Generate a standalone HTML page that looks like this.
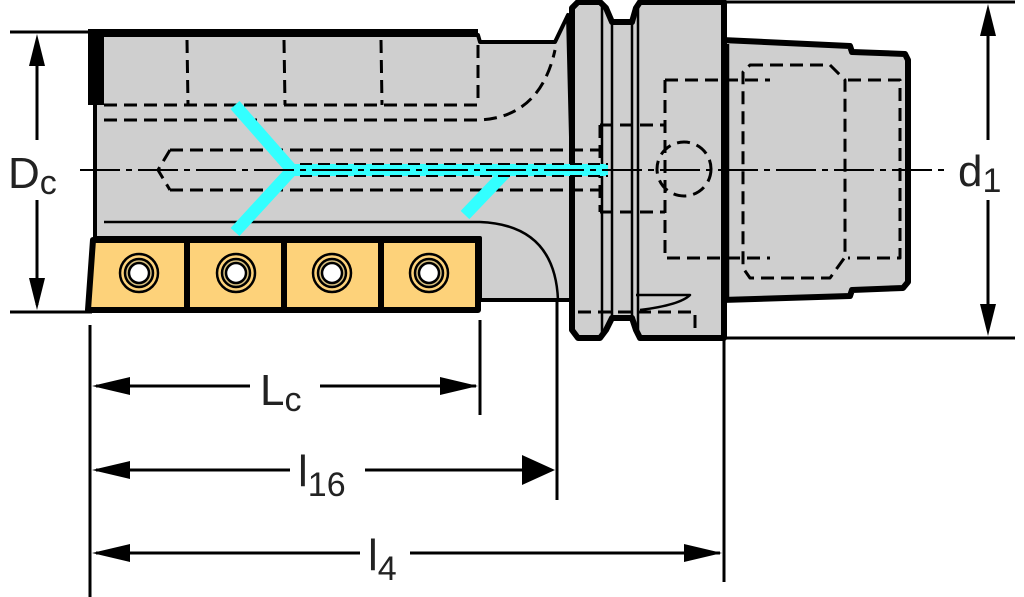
<!DOCTYPE html>
<html><head><style>html,body{margin:0;padding:0;background:#fff}svg{display:block}text{font-family:"Liberation Sans",sans-serif;fill:#222}</style></head><body>
<svg width="1024" height="597" viewBox="0 0 1024 597" xmlns="http://www.w3.org/2000/svg">
<g stroke="#000" stroke-linejoin="round">
<!-- shank -->
<path d="M722 40 L850 46 L852 52 L905 54 L908 60 L908 282 L903 288 L852 290 L850 296 L722 300 Z" fill="#cfcfcf" stroke-width="6"/>
<!-- body -->
<path d="M95 35 L478 35 L480 42 L555 42 L568 15 L575 300 L558 300 L480 300 L480 238 L95 238 Z" fill="#cfcfcf" stroke-width="4"/>
<path d="M480 222 Q555 225 558 300" fill="none" stroke-width="2.5"/>
<line x1="104" y1="222" x2="480" y2="222" stroke-width="2.5"/>
<path d="M88 33 L478 33" stroke-width="8"/>
<rect x="88" y="33" width="16" height="72" fill="#000" stroke="none"/>
<!-- flange -->
<path d="M572 8 L578 2 L600 2 L606 8 L612 22 L632 22 L636 8 L640 2 L724 2 L724 338 L640 338 L636 330 L632 318 L612 318 L606 330 L600 338 L578 338 L572 330 Z" fill="#cfcfcf" stroke-width="6"/>
<line x1="602" y1="4" x2="602" y2="336" stroke-width="2.5"/>
<line x1="612" y1="22" x2="612" y2="318" stroke-width="2.5"/>
<line x1="632" y1="22" x2="632" y2="318" stroke-width="2.5"/>
<line x1="638" y1="4" x2="638" y2="336" stroke-width="2.5"/>
<line x1="728" y1="44" x2="728" y2="298" stroke-width="2.5"/>
<path d="M636 295 L690 295 Q680 305 640 310" fill="none" stroke-width="2.5"/>
<!-- hidden lines -->
<g fill="none" stroke-width="3" stroke-dasharray="13 7">
<path d="M104 105 L478 105"/><path d="M104 120 L478 120 Q540 118 555 50"/>
<path d="M187 40 L188 105 M284 40 L285 105 M381 40 L382 105 M478 45 L478 105"/>
<path d="M170 150 L610 150 M170 190 L610 190 M170 150 L158 170 L170 190"/>
<path d="M665 80 L770 80 M665 80 L665 258 L770 258 M750 65 L830 65 L845 80 L845 257 L830 278 L750 278 L743 268 L743 72 Z M848 80 L900 80 L900 258 L848 258"/>
<path d="M600 125 L665 125 M600 212 L665 212 M600 125 L600 212"/>
<circle cx="684" cy="169" r="27"/>
<path d="M578 312 L695 312 L695 336"/>
</g>
<!-- coolant -->
<g stroke="#33ffff" stroke-width="12" fill="none" stroke-linecap="butt">
<path d="M235 105 L292 170 L235 232 M292 170 L608 170 M508 170 L465 215"/>
</g>
<g fill="none" stroke="#000" stroke-width="2" stroke-dasharray="12 6">
<path d="M300 164 L608 164 M300 176 L608 176"/>
</g>
<!-- inserts -->
<g fill="#fdd27a" stroke-width="6">
<path d="M93 240 L187 240 L187 310 L88 310 Z"/>
<rect x="187" y="240" width="97" height="70"/>
<rect x="284" y="240" width="97" height="70"/>
<rect x="381" y="240" width="97" height="70"/>
</g>
<g stroke-width="2.5">
<circle cx="139" cy="273" r="19" fill="#fdd27a"/><circle cx="139" cy="273" r="14" fill="#d8c080"/><circle cx="139" cy="273" r="10" fill="#fff"/>
<circle cx="236" cy="273" r="19" fill="#fdd27a"/><circle cx="236" cy="273" r="14" fill="#d8c080"/><circle cx="236" cy="273" r="10" fill="#fff"/>
<circle cx="332" cy="273" r="19" fill="#fdd27a"/><circle cx="332" cy="273" r="14" fill="#d8c080"/><circle cx="332" cy="273" r="10" fill="#fff"/>
<circle cx="429" cy="273" r="19" fill="#fdd27a"/><circle cx="429" cy="273" r="14" fill="#d8c080"/><circle cx="429" cy="273" r="10" fill="#fff"/>
</g>
<!-- center line -->
<path d="M80 170 L945 170" stroke-width="2" stroke-dasharray="40 6 6 6" fill="none"/>
<!-- dimension lines -->
<g stroke-width="3" fill="none">
<path d="M10 32 L92 32 M10 312 L92 312 M37 40 L37 140 M37 200 L37 305"/>
<path d="M725 2 L1015 2 M725 338 L1015 338 M988 10 L988 140 M988 200 L988 330"/>
<path d="M90 325 L90 597 M480 320 L480 415 M557 300 L557 500 M724 338 L724 582"/>
<path d="M96 386 L250 386 M320 386 L476 386 M96 470 L290 470 M365 470 L552 470 M96 553 L360 553 M410 553 L720 553"/>
</g>
<g fill="#000" stroke="none">
<path d="M37 34 L29 66 L45 66 Z M37 310 L29 278 L45 278 Z"/>
<path d="M988 4 L980 36 L996 36 Z M988 336 L980 304 L996 304 Z"/>
<path d="M92 386 L130 377 L130 395 Z M478 386 L440 377 L440 395 Z"/>
<path d="M92 470 L130 461 L130 479 Z M555 470 L522 455 L522 485 Z"/>
<path d="M92 553 L130 544 L130 562 Z M722 553 L684 544 L684 562 Z"/>
</g>
</g>
<text x="8" y="188" font-size="44">D<tspan font-size="34" dy="6">c</tspan></text>
<text x="958" y="186" font-size="44">d<tspan font-size="34" dy="6">1</tspan></text>
<text x="260" y="405" font-size="44">L<tspan font-size="34" dy="6">c</tspan></text>
<text x="298" y="486" font-size="44">l<tspan font-size="34" dy="10">16</tspan></text>
<text x="368" y="570" font-size="44">l<tspan font-size="34" dy="10">4</tspan></text>
</svg>
</body></html>
